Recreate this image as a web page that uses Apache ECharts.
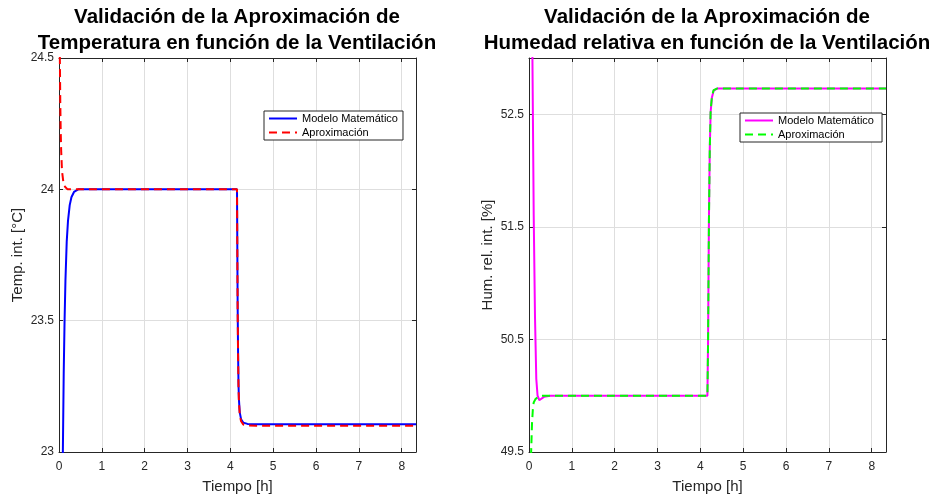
<!DOCTYPE html>
<html>
<head>
<meta charset="utf-8">
<script src="https://cdn.jsdelivr.net/npm/echarts@6/dist/echarts.min.js"></script>
<style>
html,body{margin:0;padding:0;background:#fff;}
#chart{width:934px;height:495px;}
</style>
</head>
<body>
<div id="chart"></div>
<script>
// ---- Data (time in hours) ----
const tempModelo = [[0,20.5],[0.06,22.4],[0.09,23.0],[0.11,23.3],[0.13,23.5],[0.15,23.65],[0.18,23.8],[0.21,23.88],[0.25,23.94],[0.29,23.97],[0.35,23.99],[0.45,24.0],[4.155,24.0],[4.17,23.56],[4.18,23.38],[4.19,23.26],[4.2,23.2],[4.22,23.15],[4.25,23.125],[4.3,23.112],[4.4,23.107],[4.6,23.106],[8.3333,23.106]];
const tempAprox = [[0,25.2],[0.02,24.5],[0.03,24.33],[0.04,24.22],[0.05,24.15],[0.07,24.07],[0.1,24.03],[0.14,24.01],[0.2,24.0],[4.155,24.0],[4.17,23.55],[4.18,23.37],[4.19,23.25],[4.2,23.19],[4.22,23.14],[4.25,23.117],[4.3,23.105],[4.4,23.101],[4.6,23.1],[8.3333,23.1]];
const humModelo = [[0,58],[0.08,53.0],[0.11,51.6],[0.14,50.7],[0.17,50.15],[0.2,50.0],[0.24,49.96],[0.28,49.965],[0.35,49.99],[0.5,50.0],[4.165,50.0],[4.18,50.5],[4.2,51.57],[4.22,52.2],[4.24,52.52],[4.27,52.65],[4.31,52.71],[4.4,52.73],[8.3333,52.73]];
const humAprox = [[0,47.5],[0.05,49.5],[0.07,49.75],[0.09,49.88],[0.11,49.94],[0.15,49.97],[0.2,49.985],[0.3,50.0],[4.165,50.0],[4.18,50.48],[4.2,51.55],[4.22,52.2],[4.24,52.53],[4.27,52.66],[4.31,52.715],[4.4,52.73],[8.3333,52.73]];

const seriesNames = ['Modelo Matemático', 'Aproximación'];
const titles = ['Validación de la Aproximación de\nTemperatura en función de la Ventilación',
                'Validación de la Aproximación de\nHumedad relativa en función de la Ventilación'];
const yNames = ['Temp. int. [°C]', 'Hum. rel. int. [%]'];
const xName = 'Tiempo [h]';
const xRange = [0, 8.3333];
const tempRange = [23, 24.5];
const humRange = [49.5, 53];

const FONT = 'Liberation Sans, Arial, Helvetica, sans-serif';
const AX = '#262626';
const GRIDC = '#dedede';

function xAxisPair(gi) {
  return [
    { type:'value', gridIndex:gi, position:'bottom', min:xRange[0], max:xRange[1], interval:1,
      name:xName, nameLocation:'middle', nameGap:27,
      nameTextStyle:{color:AX, fontSize:15, fontFamily:FONT},
      axisLine:{show:true, onZero:false, lineStyle:{color:AX, width:1}},
      axisTick:{show:true, inside:true, length:4, lineStyle:{color:AX}},
      axisLabel:{color:AX, fontSize:12, fontFamily:FONT, margin:9, showMaxLabel:false,
        formatter: v => Math.abs(v-Math.round(v))<1e-6 ? String(Math.round(v)) : ''},
      splitLine:{show:true, lineStyle:{color:GRIDC, width:1}} },
    { type:'value', gridIndex:gi, position:'top', min:xRange[0], max:xRange[1], interval:1,
      axisLine:{show:true, onZero:false, lineStyle:{color:AX, width:1}},
      axisTick:{show:true, inside:true, length:4, lineStyle:{color:AX}},
      axisLabel:{show:false}, splitLine:{show:false} }
  ];
}
function yAxisPair(gi, range, interval, name, gap) {
  return [
    { type:'value', gridIndex:gi, position:'left', min:range[0], max:range[1], interval:interval,
      name:name, nameLocation:'middle', nameGap:gap,
      nameTextStyle:{color:AX, fontSize:15, fontFamily:FONT},
      axisLine:{show:true, onZero:false, lineStyle:{color:AX, width:1}},
      axisTick:{show:true, inside:true, length:4, lineStyle:{color:AX}},
      axisLabel:{color:AX, fontSize:12, fontFamily:FONT, margin:5,
        showMaxLabel: gi === 0},
      splitLine:{show:true, lineStyle:{color:GRIDC, width:1}} },
    { type:'value', gridIndex:gi, position:'right', min:range[0], max:range[1], interval:interval,
      axisLine:{show:true, onZero:false, lineStyle:{color:AX, width:1}},
      axisTick:{show:true, inside:true, length:4, lineStyle:{color:AX}},
      axisLabel:{show:false}, splitLine:{show:false} }
  ];
}

function legendFor(left, top, names) {
  return {
    orient:'vertical', left:left, top:top, data:names,
    padding:[2,5,2,4], itemGap:3, itemWidth:28, itemHeight:12,
    backgroundColor:'#fff', borderColor:AX, borderWidth:1, borderRadius:0,
    itemStyle:{opacity:0, borderWidth:0},
    textStyle:{color:'#000', fontSize:11, fontFamily:FONT},
    selectedMode:false
  };
}

const chart = echarts.init(document.getElementById('chart'), null, {renderer:'canvas'});
chart.setOption({
  animation:false,
  backgroundColor:'#fff',
  title:[
    {text:titles[0], left:237, top:5, textAlign:'center', padding:0,
     textStyle:{fontSize:20.5, fontWeight:'bold', color:'#000', fontFamily:FONT, lineHeight:25.5}},
    {text:titles[1], left:707, top:5, textAlign:'center', padding:0,
     textStyle:{fontSize:20.5, fontWeight:'bold', color:'#000', fontFamily:FONT, lineHeight:25.5}}
  ],
  grid:[
    {left:59, top:58, width:357, height:394, containLabel:false, outerBoundsMode:'none'},
    {left:529, top:58, width:357, height:394, containLabel:false, outerBoundsMode:'none'}
  ],
  xAxis:[...xAxisPair(0), ...xAxisPair(1)],
  yAxis:[...yAxisPair(0, tempRange, 0.5, yNames[0], 34), ...yAxisPair(1, humRange, 1, yNames[1], 34)],
  legend:[
    legendFor(264, 111, [seriesNames[0], seriesNames[1]]),
    legendFor(740, 113, [seriesNames[0]+' ', seriesNames[1]+' '])
  ],
  series:[
    {name:seriesNames[0], type:'line', xAxisIndex:0, yAxisIndex:0, data:tempModelo, symbol:'none',
     lineStyle:{color:'#0000ff', width:2}, itemStyle:{color:'#0000ff'}},
    {name:seriesNames[1], type:'line', xAxisIndex:0, yAxisIndex:0, data:tempAprox, symbol:'none',
     lineStyle:{color:'#ff0000', width:2, type:[8,5]}, itemStyle:{color:'#ff0000'}},
    {name:seriesNames[0]+' ', type:'line', xAxisIndex:2, yAxisIndex:2, data:humModelo, symbol:'none',
     lineStyle:{color:'#ff00ff', width:2}, itemStyle:{color:'#ff00ff'}},
    {name:seriesNames[1]+' ', type:'line', xAxisIndex:2, yAxisIndex:2, data:humAprox, symbol:'none',
     lineStyle:{color:'#00ff00', width:2, type:[8,5]}, itemStyle:{color:'#00ff00'}}
  ]
});
</script>
</body>
</html>
